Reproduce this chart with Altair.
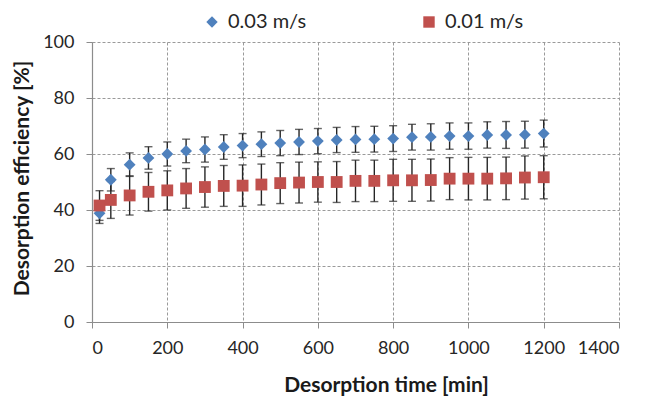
import altair as alt
import pandas as pd

# ---- data ----
times = [20, 50, 100, 150, 200, 250, 300, 350, 400, 450, 500, 550, 600,
         650, 700, 750, 800, 850, 900, 950, 1000, 1050, 1100, 1150, 1200]

blue_label = "0.03 m/s"
blue_vals = [38.8, 50.8, 56.2, 58.6, 60.0, 61.1, 61.6, 62.5, 63.0, 63.5, 63.9, 64.3, 64.6,
             65.0, 65.2, 65.3, 65.5, 66.0, 66.1, 66.4, 66.4, 66.8, 66.8, 66.9, 67.3]
blue_err = [3.6, 4.0, 4.2, 4.0, 4.3, 4.2, 4.5, 4.4, 4.3, 4.4, 4.5, 4.5, 4.5,
            4.5, 4.6, 4.6, 4.6, 4.6, 4.7, 4.7, 4.7, 4.7, 4.8, 4.8, 4.8]

red_label = "0.01 m/s"
red_vals = [41.6, 43.6, 45.2, 46.5, 47.0, 47.7, 48.2, 48.6, 48.7, 49.1, 49.6, 49.8, 50.0,
            50.0, 50.4, 50.4, 50.6, 50.6, 50.7, 51.2, 51.2, 51.2, 51.3, 51.6, 51.7]
red_err = [5.3, 6.6, 7.0, 6.9, 7.0, 7.1, 7.2, 7.3, 7.4, 7.3, 7.3, 7.3, 7.2,
           7.3, 7.4, 7.4, 7.5, 7.5, 7.5, 7.5, 7.6, 7.6, 7.6, 7.7, 7.7]

x_ticks = [0, 200, 400, 600, 800, 1000, 1200, 1400]
y_ticks = [0, 20, 40, 60, 80, 100]

series_order = [blue_label, red_label]
colors = ["#4F81BD", "#C0504D"]
shapes = ["diamond", "square"]

rows = []
for lab, vals, errs in [(blue_label, blue_vals, blue_err), (red_label, red_vals, red_err)]:
    for t, v, e in zip(times, vals, errs):
        rows.append({"series": lab, "time": t, "value": v, "lo": v - e, "hi": v + e})
df = pd.DataFrame(rows)

FONT = "Lato"

x_enc = alt.X("time:Q",
              scale=alt.Scale(domain=[0, 1400], nice=False),
              axis=alt.Axis(values=x_ticks, format="d", title="Desorption time [min]",
                            titleX=294, titleY=69, titleBaseline="alphabetic",
                            titleAlign="center"))
y_scale = alt.Scale(domain=[0, 100], nice=False)

base = alt.Chart(df)

bars = base.mark_rule(color="#262626", strokeWidth=1.4).encode(
    x=x_enc,
    y=alt.Y("lo:Q", scale=y_scale),
    y2="hi:Q",
)

cap_lo = base.mark_tick(orient="horizontal", size=8, thickness=1.4, color="#262626").encode(
    x="time:Q", y=alt.Y("lo:Q", scale=y_scale))
cap_hi = base.mark_tick(orient="horizontal", size=8, thickness=1.4, color="#262626").encode(
    x="time:Q", y=alt.Y("hi:Q", scale=y_scale))

points = base.mark_point(filled=True, opacity=1, size=140).encode(
    x="time:Q",
    y=alt.Y("value:Q", scale=y_scale,
            axis=alt.Axis(values=y_ticks, format="d", title="Desorption efficiency [%]",
                          titleAngle=270, titleX=-70, titleY=136,
                          titleAlign="center", titleBaseline="middle")),
    color=alt.Color("series:N",
                    scale=alt.Scale(domain=series_order, range=colors),
                    legend=alt.Legend(title=None, orient="none", legendX=110, legendY=-30,
                                      direction="horizontal", columnPadding=112,
                                      labelFontSize=20, labelFont=FONT, labelColor="#262626",
                                      symbolSize=130, labelOffset=6, padding=0)),
    shape=alt.Shape("series:N",
                    scale=alt.Scale(domain=series_order, range=shapes)),
)

chart = alt.layer(bars, cap_lo, cap_hi, points).properties(
    width=527, height=280,
    autosize=alt.AutoSizeParams(type="none"),
    padding={"left": 92, "top": 42, "right": 40, "bottom": 81},
).configure_view(stroke=None).configure_axis(
    grid=True, gridColor="#9a9a9a", gridDash=[3, 2], gridWidth=1,
    domainColor="#8c8c8c", domainWidth=1.2,
    tickColor="#8c8c8c", tickSize=6,
    labelFont=FONT, labelFontSize=18, labelColor="#262626",
    titleFont=FONT, titleFontSize=21, titleFontWeight="bold", titleColor="#1a1a1a",
).configure_axisX(labelPadding=11).configure_axisY(labelPadding=12)

chart.save("out.html", embed_options={"renderer": "svg", "actions": False})
